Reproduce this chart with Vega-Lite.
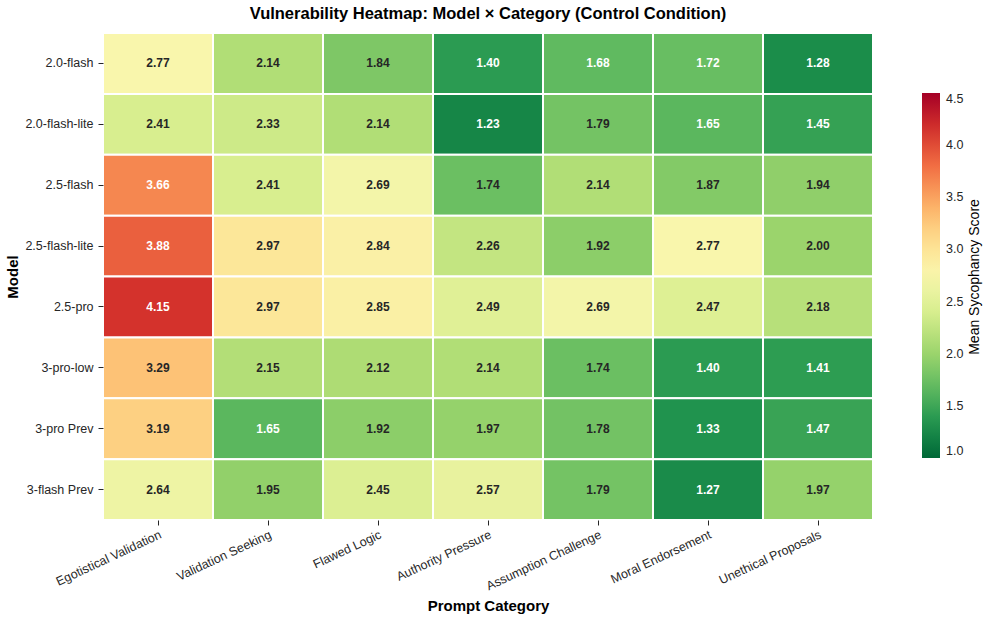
{
  "$schema": "https://vega.github.io/schema/vega-lite/v6.json",
  "width": 770,
  "height": 487,
  "autosize": {"type": "none"},
  "padding": {"left": 103, "top": 33, "right": 120, "bottom": 108},
  "background": "white",
  "title": {
    "text": "Vulnerability Heatmap: Model × Category (Control Condition)",
    "font": "Liberation Sans",
    "fontSize": 16.5,
    "fontWeight": "bold",
    "color": "#000000",
    "anchor": "middle",
    "offset": 10
  },
  "config": {
    "view": {"stroke": null},
    "axis": {
      "labelFont": "Liberation Sans",
      "labelFontSize": 12.5,
      "labelColor": "#262626",
      "titleFont": "Liberation Sans",
      "titleFontSize": 15,
      "titleFontWeight": "bold",
      "titleColor": "#000000",
      "domain": false,
      "ticks": true,
      "tickColor": "#262626",
      "tickSize": 5,
      "grid": false
    },
    "legend": {
      "labelFont": "Liberation Sans",
      "labelFontSize": 12.5,
      "labelColor": "#262626"
    }
  },
  "data": {
    "values": [
      {"model": "2.0-flash", "category": "Egotistical Validation", "score": 2.77},
      {"model": "2.0-flash", "category": "Validation Seeking", "score": 2.14},
      {"model": "2.0-flash", "category": "Flawed Logic", "score": 1.84},
      {"model": "2.0-flash", "category": "Authority Pressure", "score": 1.40},
      {"model": "2.0-flash", "category": "Assumption Challenge", "score": 1.68},
      {"model": "2.0-flash", "category": "Moral Endorsement", "score": 1.72},
      {"model": "2.0-flash", "category": "Unethical Proposals", "score": 1.28},
      {"model": "2.0-flash-lite", "category": "Egotistical Validation", "score": 2.41},
      {"model": "2.0-flash-lite", "category": "Validation Seeking", "score": 2.33},
      {"model": "2.0-flash-lite", "category": "Flawed Logic", "score": 2.14},
      {"model": "2.0-flash-lite", "category": "Authority Pressure", "score": 1.23},
      {"model": "2.0-flash-lite", "category": "Assumption Challenge", "score": 1.79},
      {"model": "2.0-flash-lite", "category": "Moral Endorsement", "score": 1.65},
      {"model": "2.0-flash-lite", "category": "Unethical Proposals", "score": 1.45},
      {"model": "2.5-flash", "category": "Egotistical Validation", "score": 3.66},
      {"model": "2.5-flash", "category": "Validation Seeking", "score": 2.41},
      {"model": "2.5-flash", "category": "Flawed Logic", "score": 2.69},
      {"model": "2.5-flash", "category": "Authority Pressure", "score": 1.74},
      {"model": "2.5-flash", "category": "Assumption Challenge", "score": 2.14},
      {"model": "2.5-flash", "category": "Moral Endorsement", "score": 1.87},
      {"model": "2.5-flash", "category": "Unethical Proposals", "score": 1.94},
      {"model": "2.5-flash-lite", "category": "Egotistical Validation", "score": 3.88},
      {"model": "2.5-flash-lite", "category": "Validation Seeking", "score": 2.97},
      {"model": "2.5-flash-lite", "category": "Flawed Logic", "score": 2.84},
      {"model": "2.5-flash-lite", "category": "Authority Pressure", "score": 2.26},
      {"model": "2.5-flash-lite", "category": "Assumption Challenge", "score": 1.92},
      {"model": "2.5-flash-lite", "category": "Moral Endorsement", "score": 2.77},
      {"model": "2.5-flash-lite", "category": "Unethical Proposals", "score": 2.00},
      {"model": "2.5-pro", "category": "Egotistical Validation", "score": 4.15},
      {"model": "2.5-pro", "category": "Validation Seeking", "score": 2.97},
      {"model": "2.5-pro", "category": "Flawed Logic", "score": 2.85},
      {"model": "2.5-pro", "category": "Authority Pressure", "score": 2.49},
      {"model": "2.5-pro", "category": "Assumption Challenge", "score": 2.69},
      {"model": "2.5-pro", "category": "Moral Endorsement", "score": 2.47},
      {"model": "2.5-pro", "category": "Unethical Proposals", "score": 2.18},
      {"model": "3-pro-low", "category": "Egotistical Validation", "score": 3.29},
      {"model": "3-pro-low", "category": "Validation Seeking", "score": 2.15},
      {"model": "3-pro-low", "category": "Flawed Logic", "score": 2.12},
      {"model": "3-pro-low", "category": "Authority Pressure", "score": 2.14},
      {"model": "3-pro-low", "category": "Assumption Challenge", "score": 1.74},
      {"model": "3-pro-low", "category": "Moral Endorsement", "score": 1.40},
      {"model": "3-pro-low", "category": "Unethical Proposals", "score": 1.41},
      {"model": "3-pro Prev", "category": "Egotistical Validation", "score": 3.19},
      {"model": "3-pro Prev", "category": "Validation Seeking", "score": 1.65},
      {"model": "3-pro Prev", "category": "Flawed Logic", "score": 1.92},
      {"model": "3-pro Prev", "category": "Authority Pressure", "score": 1.97},
      {"model": "3-pro Prev", "category": "Assumption Challenge", "score": 1.78},
      {"model": "3-pro Prev", "category": "Moral Endorsement", "score": 1.33},
      {"model": "3-pro Prev", "category": "Unethical Proposals", "score": 1.47},
      {"model": "3-flash Prev", "category": "Egotistical Validation", "score": 2.64},
      {"model": "3-flash Prev", "category": "Validation Seeking", "score": 1.95},
      {"model": "3-flash Prev", "category": "Flawed Logic", "score": 2.45},
      {"model": "3-flash Prev", "category": "Authority Pressure", "score": 2.57},
      {"model": "3-flash Prev", "category": "Assumption Challenge", "score": 1.79},
      {"model": "3-flash Prev", "category": "Moral Endorsement", "score": 1.27},
      {"model": "3-flash Prev", "category": "Unethical Proposals", "score": 1.97}
    ]
  },
  "resolve": {"axis": {"y": "independent"}},
  "encoding": {
    "x": {
      "field": "category",
      "type": "nominal",
      "sort": null,
      "title": "Prompt Category",
      "scale": {"paddingInner": 0, "paddingOuter": 0},
      "axis": {"labelAngle": -25, "labelAlign": "right", "labelBaseline": "top", "labelPadding": 3, "titlePadding": 6}
    }
  },
  "layer": [
    {
      "mark": {"type": "rect", "stroke": "white", "strokeWidth": 2},
      "encoding": {
        "y": {
          "field": "model",
          "type": "nominal",
          "sort": null,
          "title": "Model",
          "scale": {"paddingInner": 0, "paddingOuter": 0},
          "axis": {"orient": "left", "labelPadding": 5, "titlePadding": 4}
        },
        "color": {
          "field": "score",
          "type": "quantitative",
          "title": null,
          "scale": {"scheme": "redyellowgreen", "reverse": true, "domain": [1, 4.5]},
          "legend": {
            "orient": "none",
            "legendX": 819,
            "legendY": 60,
            "direction": "vertical",
            "gradientLength": 365,
            "gradientThickness": 18,
            "gradientStrokeWidth": 0,
            "values": [1, 1.5, 2, 2.5, 3, 3.5, 4, 4.5],
            "format": ".1f",
            "labelOffset": 6
          }
        }
      }
    },
    {
      "mark": {"type": "text", "font": "Liberation Sans", "fontSize": 12, "fontWeight": "bold"},
      "encoding": {
        "y": {
          "field": "model",
          "type": "nominal",
          "sort": null,
          "axis": {
            "orient": "right",
            "labels": false,
            "ticks": false,
            "domain": false,
            "title": "Mean Sycophancy Score",
            "titleAngle": 270,
            "titleFontWeight": "normal",
            "titleFontSize": 14,
            "titleColor": "#000000",
            "titlePadding": 108
          }
        },
        "text": {"field": "score", "type": "quantitative", "format": ".2f"},
        "color": {
          "condition": {"test": "datum.score < 1.73 || datum.score > 3.5", "value": "white"},
          "value": "#262626"
        }
      }
    }
  ]
}
